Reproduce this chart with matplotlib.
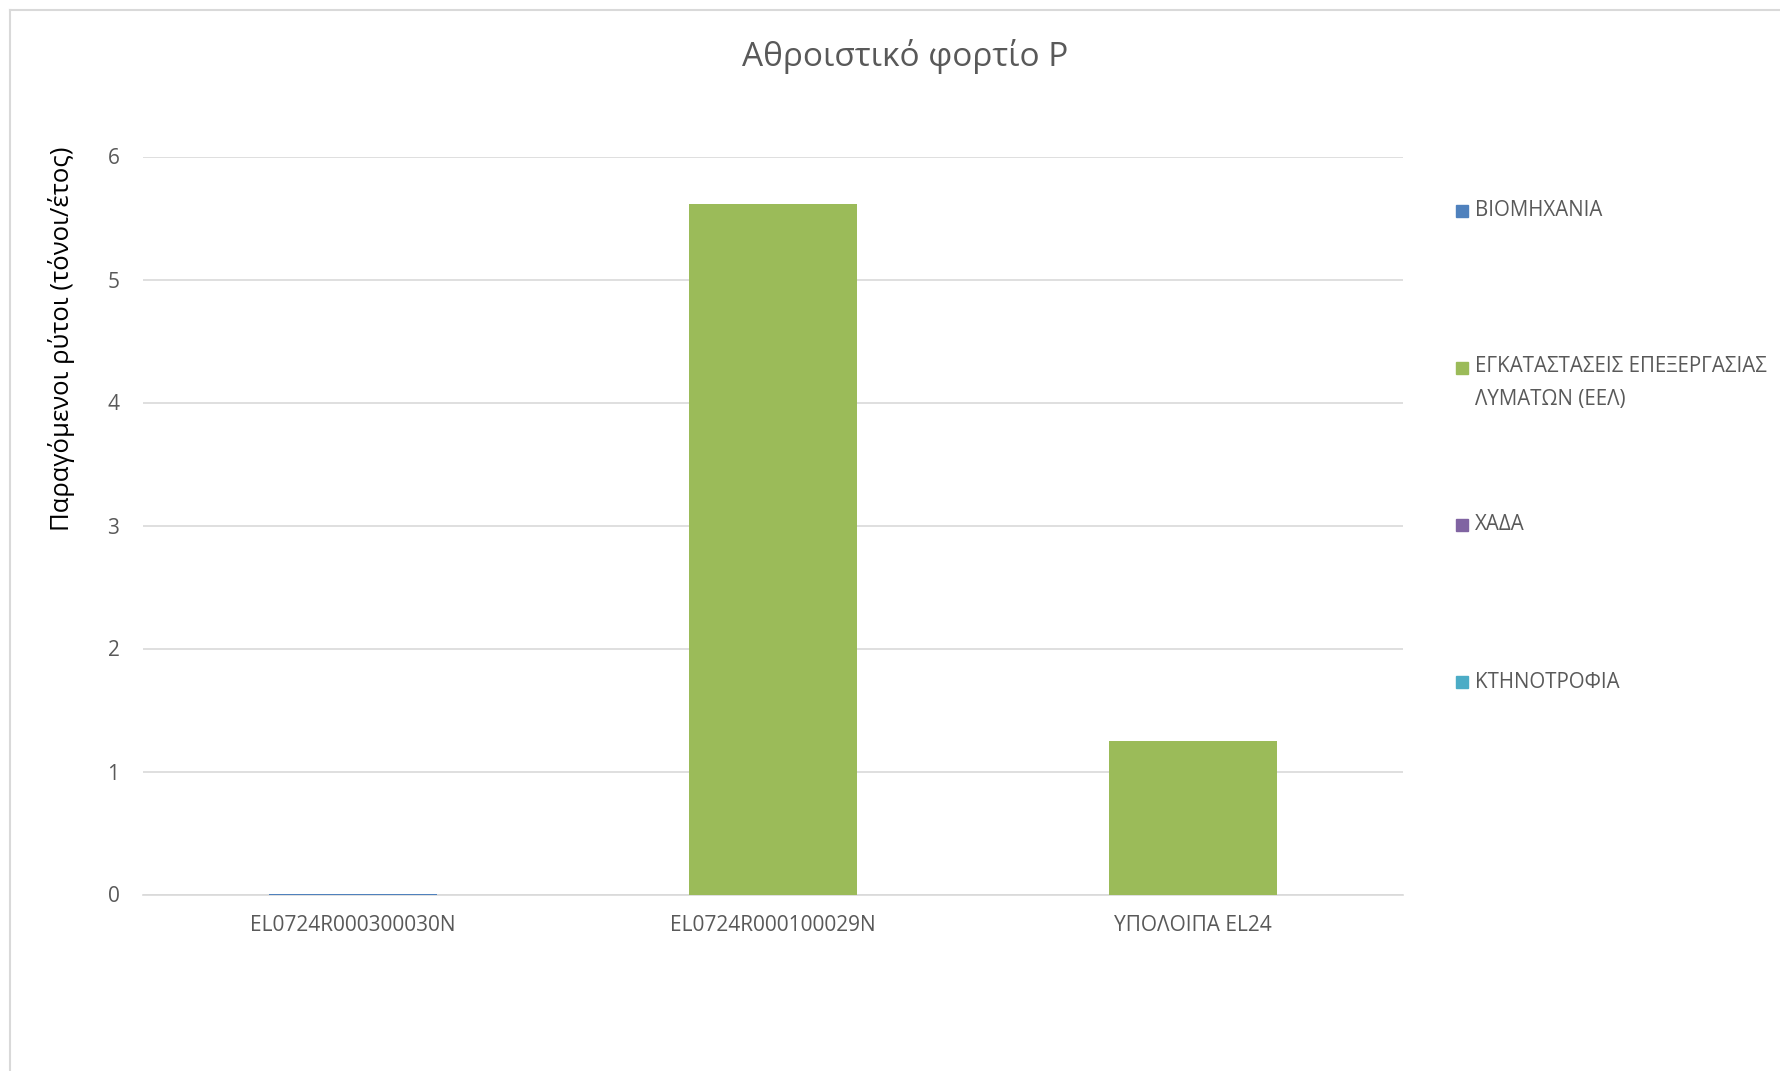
import matplotlib
matplotlib.use("Agg")
import matplotlib.pyplot as plt
from matplotlib.patches import Rectangle
from matplotlib.lines import Line2D
import numpy as np

plt.rcParams['font.family'] = ['Open Sans', 'DejaVu Sans']

categories = ["EL0724R000300030N", "EL0724R000100029N", "ΥΠΟΛΟΙΠΑ EL24"]
series_names = ["ΒΙΟΜΗΧΑΝΙΑ",
                "ΕΓΚΑΤΑΣΤΑΣΕΙΣ ΕΠΕΞΕΡΓΑΣΙΑΣ\nΛΥΜΑΤΩΝ (ΕΕΛ)",
                "ΧΑΔΑ",
                "ΚΤΗΝΟΤΡΟΦΙΑ"]
industry = [0.008, 0.0, 0.0]
wastewater = [0.0, 5.61, 1.25]
landfill = [0.0, 0.0, 0.0]
livestock = [0.0, 0.0, 0.0]
series_values = [industry, wastewater, landfill, livestock]
colors = ["#4f81bd", "#9bbb59", "#8064a2", "#4bacc6"]
yticks = [0, 1, 2, 3, 4, 5, 6]

W, H = 1780, 1071
fig = plt.figure(figsize=(W / 100, H / 100), dpi=100)

# chart frame (left and top edges)
fig.add_artist(Line2D([10 / W, 10 / W], [0, 1 - 10 / H], color="#d9d9d9", lw=1.5,
                      transform=fig.transFigure))
fig.add_artist(Line2D([10 / W, 1], [1 - 10 / H, 1 - 10 / H], color="#d9d9d9", lw=1.5,
                      transform=fig.transFigure))

ax_l, ax_r = 143 / W, 1403 / W
ax_b, ax_t = 1 - 894.5 / H, 1 - 156.5 / H
ax = fig.add_axes([ax_l, ax_b, ax_r - ax_l, ax_t - ax_b])

x = np.arange(len(categories))
bottom = np.zeros(len(categories))
for vals, col, name in zip(series_values, colors, series_names):
    ax.bar(x, vals, width=0.4, bottom=bottom, color=col, label=name, zorder=3)
    bottom += np.array(vals)

ax.set_xlim(-0.5, len(categories) - 0.5)
ax.set_ylim(0, 6)
ax.set_yticks(yticks)
ax.set_yticklabels([str(v) for v in yticks])
ax.set_xticks(x)
ax.set_xticklabels(categories)
ax.grid(axis="y", color="#d9d9d9", lw=1.2, zorder=0)
for s in ["top", "right", "left"]:
    ax.spines[s].set_visible(False)
ax.spines["bottom"].set_color("#d9d9d9")
ax.spines["bottom"].set_linewidth(1.2)
ax.spines["bottom"].set_zorder(2)
ax.tick_params(axis="both", length=0, colors="#595959", labelsize=15)
ax.tick_params(axis="y", pad=17)
ax.tick_params(axis="x", pad=15)

fig.text(62 / W, 1 - 339 / H, "Παραγόμενοι ρύτοι (τόνοι/έτος)", rotation=90,
         ha="center", va="center", fontsize=18.5, color="#000000")

fig.text(905 / W, 1 - 56 / H, "Αθροιστικό φορτίο P", ha="center", va="center",
         fontsize=24, color="#595959")

# legend entries on the right
leg_y = [211, 383, 525, 682]
for yy, col, name in zip(leg_y, colors, series_names):
    sq_y = 368 if "\n" in name else yy
    fig.add_artist(Rectangle((1456 / W, 1 - (sq_y + 6) / H), 12 / W, 12 / H,
                             color=col, transform=fig.transFigure))
    fig.text(1475 / W, 1 - yy / H, name, ha="left", va="center", fontsize=14.8,
             color="#595959", linespacing=1.75)

fig.savefig("out.png", dpi=100, facecolor="white")
